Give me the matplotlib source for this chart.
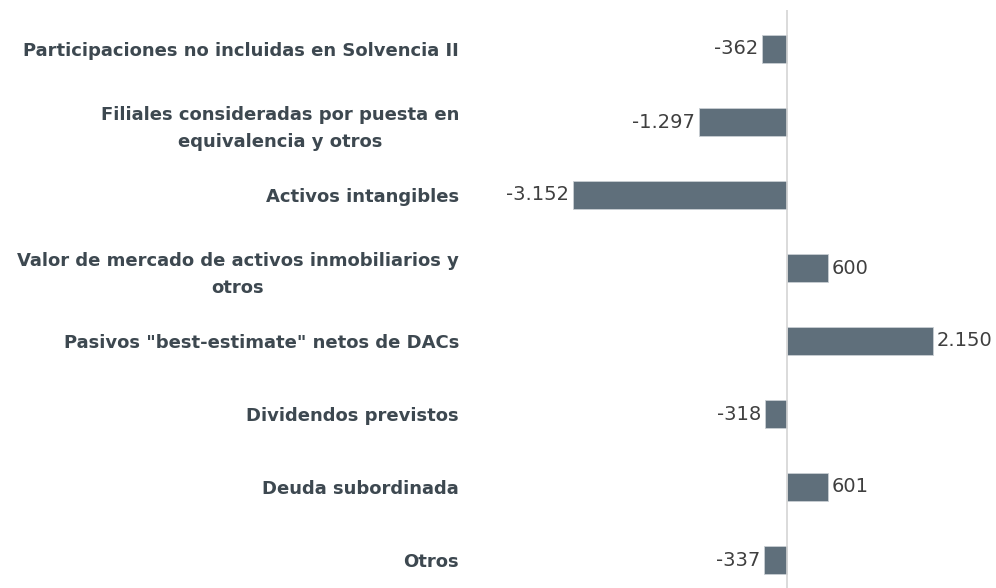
import numpy as np
import matplotlib.pyplot as plt

categories = [
    "Participaciones no incluidas en Solvencia II",
    "Filiales consideradas por puesta en\nequivalencia y otros",
    "Activos intangibles",
    "Valor de mercado de activos inmobiliarios y\notros",
    'Pasivos "best-estimate" netos de DACs',
    "Dividendos previstos",
    "Deuda subordinada",
    "Otros",
]
values = [-362, -1297, -3152, 600, 2150, -318, 601, -337]
value_labels = ["-362", "-1.297", "-3.152", "600", "2.150", "-318", "601", "-337"]

W, H = 996, 588
fig = plt.figure(figsize=(W / 100, H / 100), dpi=100)

# axes in pixel coords
ax_left, ax_right = 470, 996
ax_top, ax_bottom = 10, 588
ax = fig.add_axes([ax_left / W, 1 - ax_bottom / H, (ax_right - ax_left) / W, (ax_bottom - ax_top) / H])

zero_px = 787
scale = 214 / 3152  # px per unit
ax.set_xlim(-(zero_px - ax_left) / scale, (ax_right - zero_px) / scale)

step = 73
ax.set_ylim(7 + (588 - 560) / step, -(49 - 10) / step)

y = np.arange(len(categories))
bar_color = "#5f6f7b"
ax.barh(y, values, height=0.39, color=bar_color, edgecolor="#c9cfd3", linewidth=0.6)

for yi, v, lab in zip(y, values, value_labels):
    off = 4 / scale
    if v < 0:
        ax.text(v - off, yi, lab, ha="right", va="center", fontsize=14, color="#3f3f3f")
    else:
        ax.text(v + off, yi, lab, ha="left", va="center", fontsize=14, color="#3f3f3f")

ax.axvline(0, color="#d4d4d4", linewidth=1.2)

ax.set_yticks(y)
ax.set_yticklabels(categories, fontsize=13, fontweight="bold", color="#3d4850",
                   multialignment="center", linespacing=1.65)
ax.tick_params(axis="y", length=0, pad=8)
ax.set_xticks([])
for s in ax.spines.values():
    s.set_visible(False)

fig.savefig("out.png", dpi=100)
